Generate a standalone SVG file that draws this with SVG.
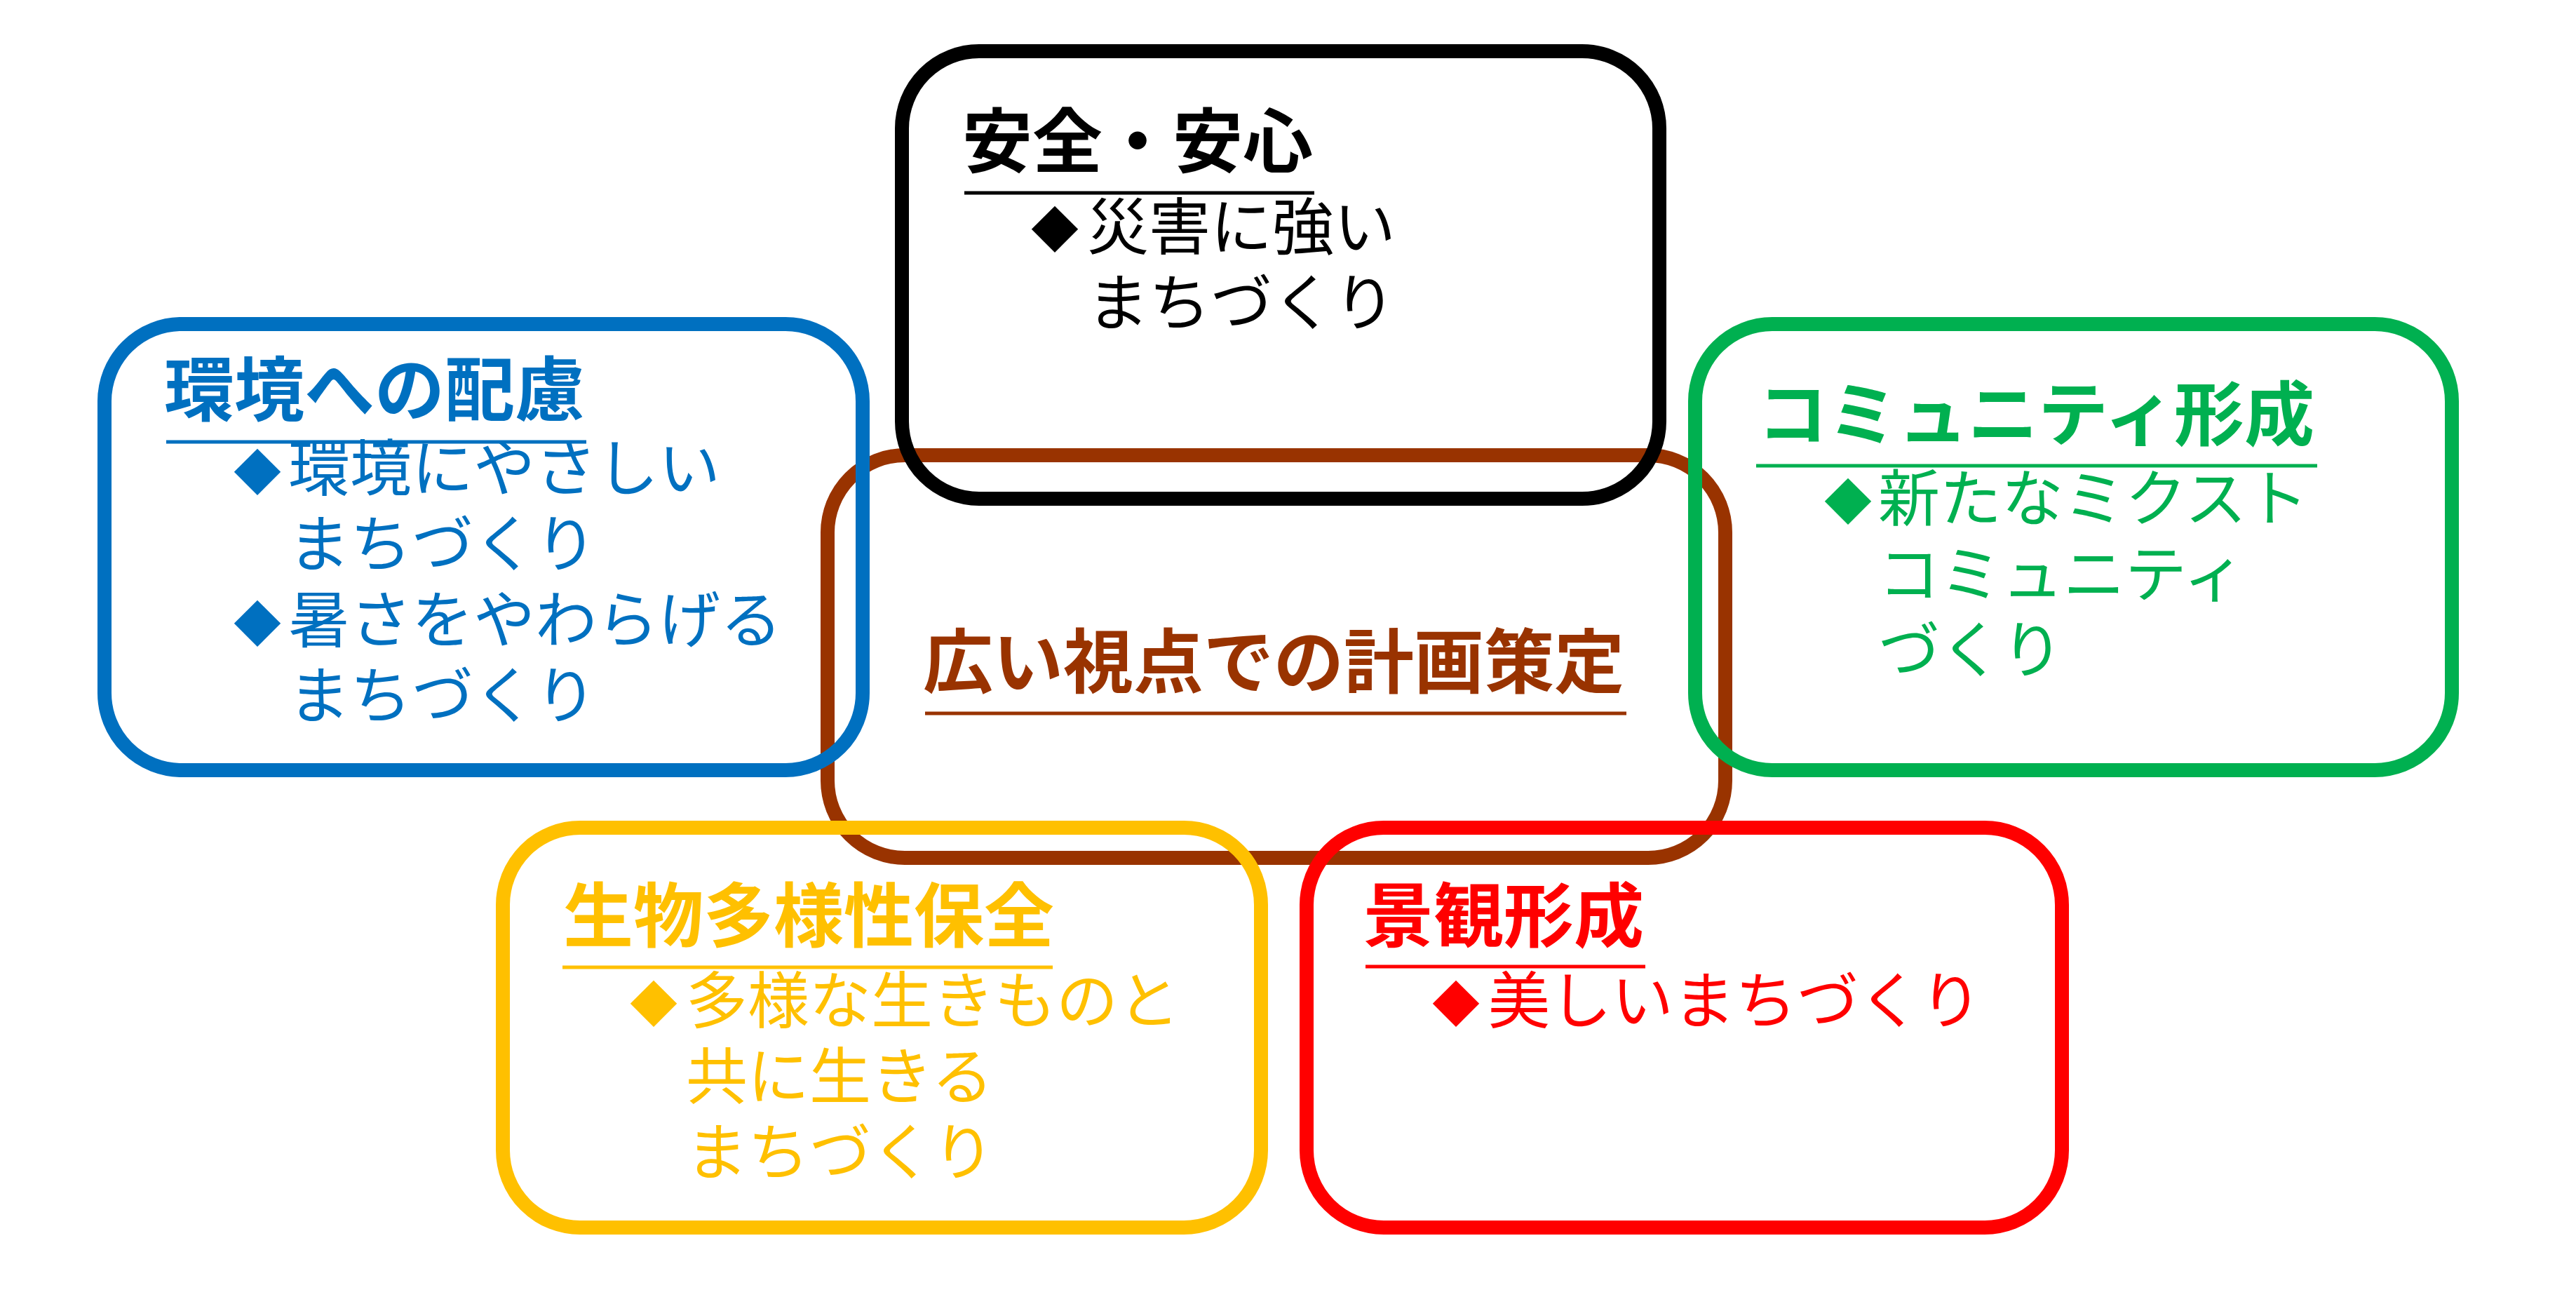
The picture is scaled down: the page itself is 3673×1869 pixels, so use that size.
<svg xmlns="http://www.w3.org/2000/svg" width="3673" height="1869" viewBox="0 0 3673 1869">
<style>
.box{fill:none;stroke-width:20}
.t{font-family:"Noto Sans CJK JP","Noto Sans CJK SC",sans-serif;font-weight:700;font-size:100px}
.b{font-family:"Noto Sans CJK JP","Noto Sans CJK SC",sans-serif;font-weight:400;font-size:88px}
.d{font-family:"Noto Sans CJK JP","Noto Sans CJK SC",sans-serif;font-weight:400;font-size:68px;text-anchor:middle}
.ul{stroke-width:5}
</style>
<rect width="3673" height="1869" fill="#ffffff"/>
<g id="center">
<rect class="box" x="1180" y="649" width="1280" height="574" rx="110" ry="110" stroke="#993300"/>
<text class="t" x="1316" y="980" fill="#993300">広い視点での計画策定</text>
<line class="ul" x1="1319" y1="1017" x2="2319" y2="1017" stroke="#993300"/>
</g>
<g id="safety">
<rect class="box" x="1286" y="73" width="1080" height="638" rx="110" ry="110" stroke="#000000"/>
<text class="t" x="1372" y="238" fill="#000000">安全・安心</text>
<line class="ul" x1="1375" y1="275" x2="1874" y2="275" stroke="#000000"/>
<text class="d" x="1504" y="353" fill="#000000">◆</text>
<text class="b" x="1550" y="355" fill="#000000">災害に強い</text>
<text class="b" x="1550" y="463" fill="#000000">まちづくり</text>
</g>
<g id="environment">
<rect class="box" x="149" y="462" width="1081" height="636" rx="110" ry="110" stroke="#0070C0"/>
<text class="t" x="234" y="592" fill="#0070C0">環境への配慮</text>
<line class="ul" x1="237" y1="630" x2="836" y2="630" stroke="#0070C0"/>
<text class="d" x="367" y="699" fill="#0070C0">◆</text>
<text class="b" x="411" y="699" fill="#0070C0">環境にやさしい</text>
<text class="b" x="411" y="807" fill="#0070C0">まちづくり</text>
<text class="d" x="367" y="915" fill="#0070C0">◆</text>
<text class="b" x="411" y="915" fill="#0070C0">暑さをやわらげる</text>
<text class="b" x="411" y="1023" fill="#0070C0">まちづくり</text>
</g>
<g id="community">
<rect class="box" x="2417" y="462" width="1079" height="636" rx="110" ry="110" stroke="#00B050"/>
<text class="t" x="2506" y="627" fill="#00B050">コミュニティ形成</text>
<line class="ul" x1="2504" y1="664" x2="3304" y2="664" stroke="#00B050"/>
<text class="d" x="2635" y="741" fill="#00B050">◆</text>
<text class="b" x="2678" y="742" fill="#00B050">新たなミクスト</text>
<text class="b" x="2678" y="850" fill="#00B050">コミュニティ</text>
<text class="b" x="2678" y="958" fill="#00B050">づくり</text>
</g>
<g id="biodiversity">
<rect class="box" x="717" y="1180" width="1081" height="570" rx="110" ry="110" stroke="#FFC000"/>
<text class="t" x="803" y="1342" fill="#FFC000">生物多様性保全</text>
<line class="ul" x1="802" y1="1379" x2="1501" y2="1379" stroke="#FFC000"/>
<text class="d" x="932" y="1457" fill="#FFC000">◆</text>
<text class="b" x="978" y="1458" fill="#FFC000">多様な生きものと</text>
<text class="b" x="978" y="1566" fill="#FFC000">共に生きる</text>
<text class="b" x="978" y="1674" fill="#FFC000">まちづくり</text>
</g>
<g id="landscape">
<rect class="box" x="1863" y="1180" width="1077" height="570" rx="110" ry="110" stroke="#FF0000"/>
<text class="t" x="1944" y="1342" fill="#FF0000">景観形成</text>
<line class="ul" x1="1947" y1="1378" x2="2346" y2="1378" stroke="#FF0000"/>
<text class="d" x="2076" y="1457" fill="#FF0000">◆</text>
<text class="b" x="2122" y="1458" fill="#FF0000">美しいまちづくり</text>
</g>
<g id="connectors"></g>
</svg>
